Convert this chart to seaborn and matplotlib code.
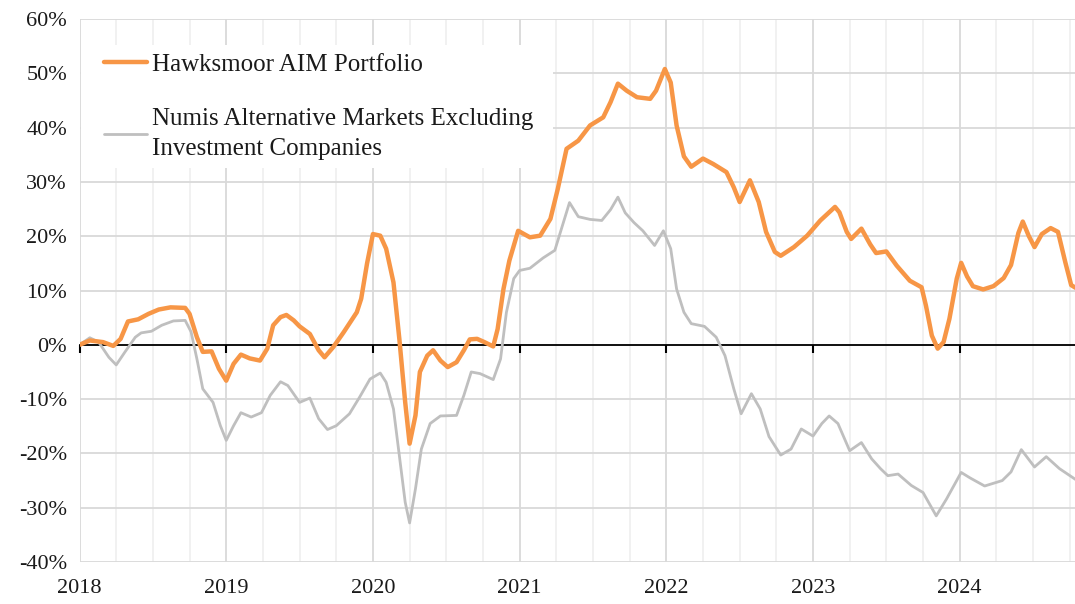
import numpy as np
import pandas as pd
import matplotlib.pyplot as plt
import matplotlib.ticker as mticker
from matplotlib.patches import Rectangle
import seaborn as sns

sns.set_theme(style="white")
plt.rcParams['font.family'] = ['Liberation Serif', 'DejaVu Serif']

## values (x in decimal years, y in %)
hawk_t = [2018.00, 2018.07, 2018.16, 2018.23, 2018.28, 2018.33, 2018.40, 2018.47, 2018.54, 2018.62,
          2018.72, 2018.75, 2018.80, 2018.84, 2018.90, 2018.95, 2019.00, 2019.05, 2019.10, 2019.16,
          2019.23, 2019.28, 2019.32, 2019.37, 2019.41, 2019.46, 2019.50, 2019.57, 2019.63, 2019.67,
          2019.73, 2019.80, 2019.89, 2019.92, 2019.96, 2020.00, 2020.05, 2020.09, 2020.14, 2020.18,
          2020.22, 2020.25, 2020.29, 2020.32, 2020.37, 2020.41, 2020.46, 2020.51, 2020.57, 2020.62,
          2020.66, 2020.71, 2020.76, 2020.82, 2020.85, 2020.89, 2020.93, 2020.99, 2021.07, 2021.14,
          2021.21, 2021.26, 2021.32, 2021.40, 2021.48, 2021.57, 2021.62, 2021.67, 2021.73, 2021.80,
          2021.89, 2021.93, 2021.99, 2022.03, 2022.07, 2022.12, 2022.17, 2022.25, 2022.32, 2022.41,
          2022.46, 2022.50, 2022.57, 2022.63, 2022.68, 2022.74, 2022.78, 2022.87, 2022.96, 2023.05,
          2023.15, 2023.18, 2023.23, 2023.26, 2023.33, 2023.39, 2023.43, 2023.50, 2023.57, 2023.66,
          2023.74, 2023.77, 2023.81, 2023.85, 2023.89, 2023.93, 2023.98, 2024.01, 2024.05, 2024.09,
          2024.16, 2024.23, 2024.30, 2024.35, 2024.40, 2024.43, 2024.47, 2024.51, 2024.56, 2024.62,
          2024.67, 2024.72, 2024.76, 2024.79]
hawk_v = [0.0, 0.8, 0.5, -0.2, 1.1, 4.3, 4.7, 5.7, 6.5, 6.9,
          6.8, 5.7, 1.4, -1.3, -1.2, -4.4, -6.6, -3.5, -1.8, -2.5,
          -2.9, -0.7, 3.6, 5.1, 5.5, 4.5, 3.4, 2.0, -1.0, -2.3,
          -0.4, 2.3, 6.0, 8.5, 15.0, 20.4, 20.1, 17.7, 11.5, 1.1,
          -10.6, -18.2, -13.0, -5.0, -2.0, -1.0, -2.9, -4.1, -3.2, -1.0,
          1.0, 1.1, 0.5, -0.3, 2.9, 10.3, 15.5, 21.0, 19.8, 20.1,
          23.2, 28.7, 36.1, 37.6, 40.4, 41.9, 44.7, 48.1, 46.8, 45.6,
          45.3, 46.8, 50.8, 48.3, 40.4, 34.7, 32.8, 34.3, 33.3, 31.8,
          29.0, 26.3, 30.3, 26.3, 20.8, 17.1, 16.4, 18.0, 20.1, 22.9,
          25.4, 24.4, 20.8, 19.5, 21.4, 18.5, 16.9, 17.2, 14.6, 11.8,
          10.6, 7.2, 1.7, -0.7, 0.5, 4.8, 12.2, 15.1, 12.6, 10.8,
          10.2, 10.8, 12.3, 14.7, 20.6, 22.7, 20.1, 18.0, 20.4, 21.5,
          20.8, 15.2, 11.0, 10.5]

numis_t = [2018.00, 2018.07, 2018.13, 2018.20, 2018.25, 2018.31, 2018.38, 2018.42, 2018.49, 2018.56,
           2018.64, 2018.72, 2018.76, 2018.80, 2018.84, 2018.91, 2018.96, 2019.00, 2019.05, 2019.10,
           2019.17, 2019.24, 2019.30, 2019.37, 2019.42, 2019.50, 2019.57, 2019.63, 2019.69, 2019.75,
           2019.84, 2019.91, 2019.98, 2020.05, 2020.09, 2020.14, 2020.18, 2020.22, 2020.25, 2020.29,
           2020.33, 2020.39, 2020.46, 2020.57, 2020.62, 2020.67, 2020.73, 2020.82, 2020.87, 2020.91,
           2020.96, 2021.00, 2021.07, 2021.16, 2021.24, 2021.29, 2021.34, 2021.40, 2021.48, 2021.56,
           2021.62, 2021.67, 2021.72, 2021.78, 2021.84, 2021.92, 2021.98, 2022.03, 2022.07, 2022.12,
           2022.17, 2022.26, 2022.34, 2022.40, 2022.46, 2022.51, 2022.58, 2022.64, 2022.70, 2022.78,
           2022.85, 2022.92, 2023.00, 2023.06, 2023.11, 2023.17, 2023.25, 2023.33, 2023.40, 2023.46,
           2023.51, 2023.58, 2023.67, 2023.75, 2023.84, 2023.91, 2024.01, 2024.07, 2024.17, 2024.29,
           2024.35, 2024.42, 2024.51, 2024.59, 2024.68, 2024.79]
numis_v = [0.0, 1.3, 0.5, -2.3, -3.7, -1.3, 1.4, 2.2, 2.5, 3.6,
           4.4, 4.5, 2.4, -2.6, -8.1, -10.6, -14.9, -17.6, -14.9, -12.5,
           -13.3, -12.5, -9.3, -6.8, -7.5, -10.6, -9.8, -13.6, -15.6, -14.9,
           -12.7, -9.6, -6.3, -5.2, -6.9, -11.8, -20.4, -29.0, -32.8, -26.5,
           -19.2, -14.5, -13.1, -13.0, -9.3, -5.0, -5.3, -6.4, -2.6, 6.0,
           12.2, 13.7, 14.1, 16.0, 17.4, 21.8, 26.2, 23.6, 23.1, 22.9,
           24.9, 27.2, 24.3, 22.5, 21.0, 18.3, 21.0, 17.7, 10.3, 6.0,
           3.9, 3.4, 1.4, -2.0, -8.1, -12.7, -9.0, -11.8, -16.9, -20.3,
           -19.2, -15.5, -16.8, -14.5, -13.1, -14.5, -19.5, -18.0, -21.0, -22.8,
           -24.1, -23.8, -25.9, -27.2, -31.5, -28.4, -23.5, -24.5, -26.0, -25.0,
           -23.4, -19.3, -22.5, -20.6, -22.8, -24.8]

years = [2018, 2019, 2020, 2021, 2022, 2023, 2024]
yticks = [-40, -30, -20, -10, 0, 10, 20, 30, 40, 50, 60]

orange = '#F79646'
grey = '#BFBFBF'

fig = plt.figure(figsize=(10.75, 6.04), dpi=100)
ax = fig.add_axes([0.074, 0.0695, 0.926, 0.899])

sns.lineplot(x=numis_t, y=numis_v, color=grey, lw=2.0, ax=ax,
             label='Numis Alternative Markets Excluding\nInvestment Companies', zorder=3)
sns.lineplot(x=hawk_t, y=hawk_v, color=orange, lw=3.2, ax=ax,
             label='Hawksmoor AIM Portfolio', zorder=4)
for l in ax.lines:
    l.set_solid_joinstyle('round')

ax.set_xlim(2018, 2024.786)
ax.set_ylim(-40, 60)
ax.set_xticks(years)
ax.set_xticks(np.arange(2018, 2025, 0.25), minor=True)
ax.set_yticks(yticks)
ax.yaxis.set_major_formatter(mticker.FuncFormatter(lambda v, p: f"{int(v)}%"))

ax.grid(True, which='major', color='#D9D9D9', lw=1.3)
ax.grid(True, which='minor', axis='x', color='#EEEEEE', lw=1.1)
ax.set_axisbelow(True)
for s in ax.spines.values():
    s.set_visible(False)
ax.tick_params(axis='both', which='both', length=0, labelsize=16, colors='#1a1a1a')
ax.tick_params(axis='x', pad=12)
ax.tick_params(axis='y', pad=9)
ax.set_xlabel('')
ax.set_ylabel('')

## zero line with year ticks
zero_ax = ax.secondary_xaxis(0.4)
zero_ax.set_zorder(2)
zero_ax.set_xticks(years)
zero_ax.tick_params(axis='x', bottom=True, direction='out', length=6, width=1.5,
                    color='black', labelbottom=False)
zero_ax.spines['bottom'].set_color('black')
zero_ax.spines['bottom'].set_linewidth(1.3)

## white box behind legend
ax.add_patch(Rectangle((0.001, 0.726), 0.475, 0.226, transform=ax.transAxes,
                       facecolor='white', edgecolor='none', zorder=1.5))

handles, labels = ax.get_legend_handles_labels()
leg = ax.legend(handles[::-1], labels[::-1], loc='upper left', bbox_to_anchor=(0.025, 0.937),
                frameon=False, fontsize=18, handlelength=1.7, handletextpad=0.2,
                labelspacing=1.3, borderpad=0, borderaxespad=0)
for t in leg.get_texts():
    t.set_color('#1a1a1a')
    t.set_linespacing(1.45)

plt.savefig('out.png', dpi=100)
